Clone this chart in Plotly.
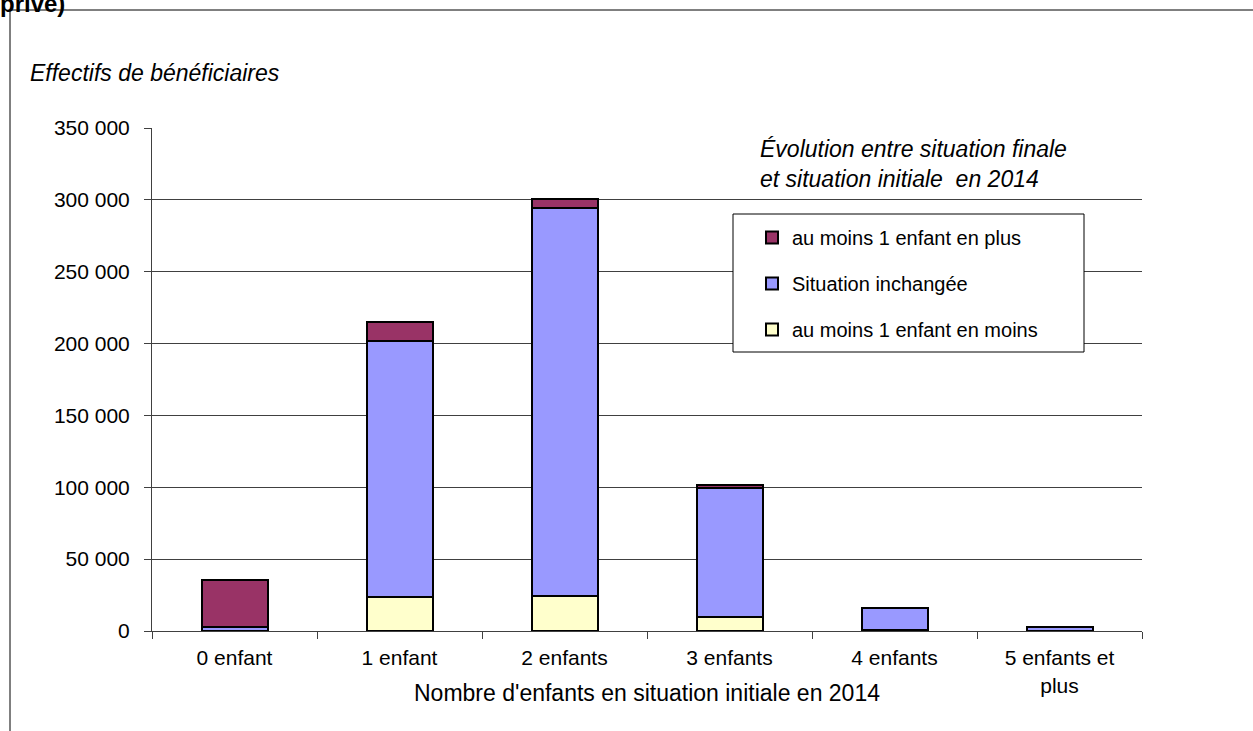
import plotly.graph_objects as go

categories = ["0 enfant", "1 enfant", "2 enfants", "3 enfants", "4 enfants", "5 enfants et<br>plus"]
moins = [0, 23700, 24400, 9700, 1000, 0]
inchangee = [3000, 178000, 270000, 89800, 15000, 3000]
plus = [32500, 13000, 6200, 2000, 300, 100]

W, H = 1253, 731
L, R, T, B = 152, 111, 128, 100
pw, ph = W - L - R, H - T - B


def px(x):
    return (x - L) / pw


def py(y):
    return (H - B - y) / ph


font = "Liberation Sans, Arial, sans-serif"

fig = go.Figure()
series = [
    ("au moins 1 enfant en moins", moins, "#FFFFCC", 3),
    ("Situation inchangée", inchangee, "#9999FF", 2),
    ("au moins 1 enfant en plus", plus, "#993366", 1),
]
for name, vals, col, rank in series:
    fig.add_trace(go.Bar(
        x=categories, y=vals, name=name, legendgroup=name, legendrank=rank,
        marker=dict(color=col, line=dict(color="black", width=2)),
    ))

fig.update_layout(
    width=W, height=H,
    margin=dict(l=L, r=R, t=T, b=B),
    barmode="stack", bargap=0.6,
    plot_bgcolor="white", paper_bgcolor="white",
    separators=", ",
    font=dict(family=font, size=21, color="black"),
    legend=dict(
        x=px(752), y=py(218), xanchor="left", yanchor="top",
        traceorder="grouped", tracegroupgap=17,
        borderwidth=0, bgcolor="rgba(0,0,0,0)",
        font=dict(size=20), itemwidth=30,
    ),
    showlegend=True,
)

fig.update_yaxes(
    range=[0, 350000], dtick=50000, tickformat=",d",
    showgrid=True, gridcolor="#404040", gridwidth=1,
    showline=True, linecolor="#404040", linewidth=1,
    ticks="outside", ticklen=7, tickcolor="#404040", ticklabelstandoff=10,
    zeroline=False,
)
fig.update_xaxes(
    showline=True, linecolor="#404040", linewidth=1,
    ticks="outside", ticklen=7, tickcolor="#404040", tickson="boundaries",
    ticklabelstandoff=8,
)

# legend frame
fig.add_shape(type="rect", xref="paper", yref="paper",
              x0=px(733), x1=px(1084), y0=py(214), y1=py(352),
              line=dict(color="black", width=1), fillcolor="white", layer="above")

fig.add_annotation(
    xref="paper", yref="paper", x=0.5, y=py(693), xanchor="center", yanchor="middle",
    text="Nombre d'enfants en situation initiale en 2014", showarrow=False, font=dict(size=23),
)
fig.add_annotation(
    xref="paper", yref="paper", x=px(28), y=py(73), xanchor="left", yanchor="middle",
    text="<i>Effectifs de bénéficiaires</i>", showarrow=False, font=dict(size=23),
)
fig.add_annotation(
    xref="paper", yref="paper", x=px(758), y=py(164), xanchor="left", yanchor="middle",
    text="<i>Évolution entre situation finale<br>et situation initiale  en 2014</i>",
    showarrow=False, align="left", font=dict(size=23),
)
fig.add_annotation(
    xref="paper", yref="paper", x=px(-2), y=py(19), xanchor="left", yanchor="bottom",
    text="<b>privé)</b>", showarrow=False, font=dict(size=24),
)

fig.add_shape(type="line", xref="paper", yref="paper",
              x0=px(10), x1=px(10), y0=py(10), y1=py(740),
              line=dict(color="black", width=1))
fig.add_shape(type="line", xref="paper", yref="paper",
              x0=px(10), x1=px(1260), y0=py(10), y1=py(10),
              line=dict(color="black", width=1))

fig.write_html("out.html", config={"displayModeBar": False},
               post_script="document.body.style.margin='0';")
